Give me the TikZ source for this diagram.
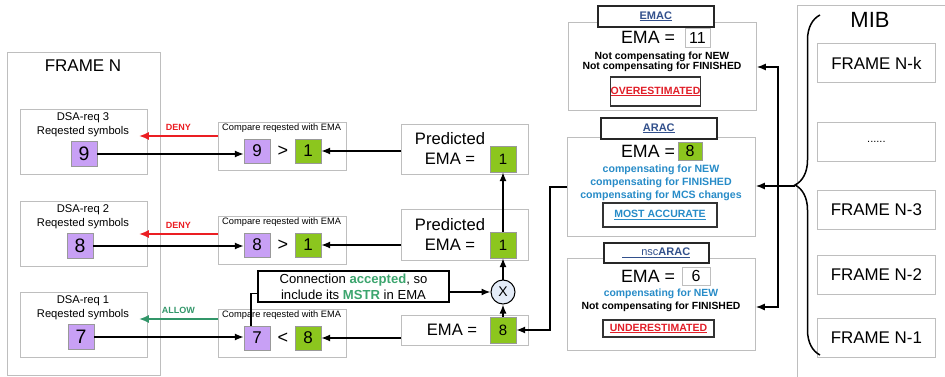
\documentclass[tikz,border=0pt]{standalone}
\usepackage{fontspec}
\setmainfont{Liberation Sans}
\usetikzlibrary{arrows.meta,decorations.pathreplacing}

\definecolor{boxgray}{RGB}{190,190,190}
\definecolor{reqpurple}{RGB}{200,160,245}
\definecolor{emagreen}{RGB}{140,198,30}
\definecolor{denyred}{RGB}{235,30,35}
\definecolor{allowgreen}{RGB}{50,150,105}
\definecolor{accgreen}{RGB}{60,165,110}
\definecolor{compblue}{RGB}{40,140,200}
\definecolor{titleblue}{RGB}{50,80,140}
\definecolor{statred}{RGB}{225,30,40}
\definecolor{xfill}{RGB}{228,236,248}

\newcommand\fsz[2]{\fontsize{#1}{#2}\selectfont}
\newcommand\ttltxt[1]{\textcolor{titleblue}{\underline{\textbf{#1}}}}

\tikzset{
  box/.style={draw=boxgray, line width=0.8, fill=white, inner sep=0, anchor=north west},
  reqsq/.style={draw=gray!80, fill=reqpurple, minimum width=26, minimum height=25, inner sep=0},
  emasq/.style={draw=gray!80, fill=emagreen, minimum width=26, minimum height=26, inner sep=0},
  valbox/.style={draw=boxgray, line width=0.8, fill=white, inner sep=0},
  titlebox/.style={draw=black!85, line width=1.6, fill=white, inner sep=0, anchor=north west},
  statbox/.style={draw=black!80, line width=1.4, fill=white, inner sep=0, font=\bfseries\fsz{10.5}{10.5}},
  arr/.style={-{Latex[length=9,width=7]}, line width=1.4},
  denyarr/.style={-{Latex[length=10,width=8]}, line width=2, denyred},
  allowarr/.style={-{Latex[length=10,width=8]}, line width=2, allowgreen},
}

\begin{document}
\begin{tikzpicture}[x=1pt,y=-1pt]
  \useasboundingbox (0,0) rectangle (945,377);

  \node[box, minimum width=153, minimum height=323] (frameN) at (7,52) {};
  \node[font=\fsz{17}{17}] (frameNlbl) at (83,66) {FRAME N};
  \foreach \i/\t/\v/\sx in {3/109/9/84, 2/201/8/80, 1/292/7/81} {
    \node[box, minimum width=127, minimum height=65] (dsa\i) at (20,\t) {};
    \node[font=\fsz{11.2}{14}, align=center] (dsalbl\i) at (83,\t+16) {DSA-req \i\\Reqested symbols};
    \node[reqsq, font=\fsz{19.5}{19.5}] (req\i) at (\sx,\t+45) {\v};
  }

  \foreach \i/\t/\v/\rel/\g in {3/122/9/\textgreater/1, 2/216/8/\textgreater/1, 1/309/7/\textless/8} {
    \node[box, minimum width=128, minimum height=48] (cmp\i) at (218,\t) {};
    \node[font=\fsz{9.3}{10}, anchor=north west, inner sep=0] (cmplbl\i) at (222,\t+2) {Compare reqested with EMA};
    \node[reqsq, minimum height=24, font=\fsz{17}{17}] (cr\i) at (257,\t+29) {\v};
    \node[font=\fsz{18}{18}] (rel\i) at (283,\t+29) {\rel};
    \node[emasq, minimum height=24, font=\fsz{17}{17}] (cg\i) at (308,\t+29) {\g};
    \draw[arr] (req\i) -- (req\i -| cr\i.west);
  }

  \draw[denyarr] ([yshift=-14]cmp3.north west) -- node[above=1pt, font=\bfseries\fsz{9}{9}] {DENY} ([xshift=-9,yshift=-27]dsa3.north east);
  \draw[denyarr] ([yshift=-18]cmp2.north west) -- node[above=1pt, font=\bfseries\fsz{9}{9}] {DENY} ([xshift=-9,yshift=-33]dsa2.north east);
  \draw[allowarr] ([yshift=-10]cmp1.north west) -- node[above=1pt, font=\bfseries\fsz{9}{9}] {ALLOW} ([xshift=-9,yshift=-27]dsa1.north east);

  \node[box, minimum width=127, minimum height=50] (pred3) at (401,124) {};
  \node[font=\fsz{16.6}{20}, align=center] (pred3lbl) at (450,148) {Predicted\\EMA =};
  \node[emasq, font=\fsz{15}{15}] (gp3) at (503,159) {1};
  \node[box, minimum width=127, minimum height=51] (pred2) at (401,209) {};
  \node[font=\fsz{16.6}{20}, align=center] (pred2lbl) at (450,234) {Predicted\\EMA =};
  \node[emasq, font=\fsz{15}{15}] (gp2) at (503,245) {1};
  \node[box, minimum width=127, minimum height=30] (ema) at (401,315) {};
  \node[font=\fsz{16.6}{20}] (emalbl) at (452,330) {EMA =};
  \node[emasq, font=\fsz{15}{15}] (gE) at (503,330) {8};
  \node[circle, draw, fill=xfill, line width=1, minimum size=24, inner sep=0, font=\fsz{14}{14}] (mult) at (503,292) {X};

  \draw[arr] (pred3.west |- cg3) -- (cg3);
  \draw[arr] (pred2.west |- cg2) -- (cg2);
  \draw[arr] (ema.west |- cg1) -- (cg1);
  \draw[arr] (gE) -- (mult);
  \draw[arr] (mult) -- (gp2);
  \draw[arr] (gp2) -- (gp3);

  \node[draw, line width=1.6, fill=white, minimum width=191, minimum height=31, inner sep=0, align=center, font=\fsz{13.1}{16}] (conn) at (353.5,286.5)
    {Connection \textbf{\color{accgreen}accepted}, so\\include its \textbf{\color{accgreen}MSTR} in EMA};
  \draw[line width=1.3] ([xshift=-6]cr1.north) |- ([yshift=-7]conn.west);
  \draw[arr] (conn.east |- mult) -- (mult);

  \node[box, minimum width=188, minimum height=88] (emac) at (568,22) {};
  \node[titlebox, minimum width=116, minimum height=21, font=\fsz{11}{11}] (emacttl) at (597,5) {\ttltxt{EMAC}};
  \node[font=\fsz{17.8}{18}] (emaclbl) at (648,37) {EMA =};
  \node[valbox, minimum width=25, minimum height=19, font=\fsz{16}{16}] (emacval) at (697.5,37.5) {11};
  \node[font=\bfseries\fsz{10.4}{10.5}, align=center] (emactxt) at (662,62) {Not compensating for NEW\\Not compensating for FINISHED};
  \node[statbox, minimum width=83, minimum height=29, text=statred] (over) at (655.5,91.5) {\underline{OVERESTIMATED}};

  \node[box, minimum width=188, minimum height=99] (arac) at (567,137) {};
  \node[titlebox, minimum width=116, minimum height=21, font=\fsz{11}{11}] (aracttl) at (600,117) {\ttltxt{ARAC}};
  \node[font=\fsz{17.8}{18}] (araclbl) at (648,151) {EMA =};
  \node[emasq, minimum width=24, minimum height=18, font=\fsz{16}{16}] (aracval) at (690,151) {8};
  \node[font=\bfseries\fsz{10.6}{13}, align=center, text=compblue] (aractxt) at (661,183) {compensating for NEW\\compensating for FINISHED\\compensating for MCS changes};
  \node[statbox, minimum width=114, minimum height=24, text=compblue] (most) at (660,215) {\underline{MOST ACCURATE}};

  \node[box, minimum width=188, minimum height=92] (nsc) at (567,258) {};
  \node[titlebox, minimum width=105, minimum height=20, font=\fsz{11}{11}] (nscttl) at (603,242) {\textcolor{titleblue}{\underline{\hspace{19pt}nsc\textbf{ARAC}}}};
  \node[font=\fsz{17.8}{18}] (nsclbl) at (648,276) {EMA =};
  \node[valbox, minimum width=28, minimum height=18, font=\fsz{16}{16}] (nscval) at (696,276) {6};
  \node[font=\bfseries\fsz{10.4}{13}, align=center] (nsctxt) at (661,300.5) {\textcolor{compblue}{compensating for NEW}\\Not compensating for FINISHED};
  \node[statbox, minimum width=111, minimum height=17, text=statred] (under) at (658.5,328.5) {\underline{UNDERESTIMATED}};

  \node[box, minimum width=160, minimum height=380] (mib) at (797,5) {};
  \node[font=\fsz{22}{22}] (miblbl) at (870,20) {MIB};
  \foreach \n/\t/\lbl in {k/43/{FRAME N-k}, d/122/{\fsz{11}{11}......}, 3/190/{FRAME N-3}, 2/255/{FRAME N-2}, 1/318/{FRAME N-1}} {
    \node[box, minimum width=118, minimum height=39, font=\fsz{16.9}{17}] (mibf\n) at (817,\t) {\lbl};
  }
  \draw[decorate, decoration={brace, amplitude=25}, line width=1.5] (820,355) -- (820,15);

  \coordinate (mibtip) at (795,186);
  \coordinate (bus) at (778,186);
  \draw[arr] (mibtip) -- (arac.east |- mibtip);
  \draw[arr, {Latex[length=9,width=7]}-{Latex[length=9,width=7]}] ([yshift=-45]emac.north east) -| (bus) |- ([yshift=-49]nsc.north east);
  \draw[arr] (arac.west) -- ++(-17,0) |- (gE.east);
\end{tikzpicture}
\end{document}
